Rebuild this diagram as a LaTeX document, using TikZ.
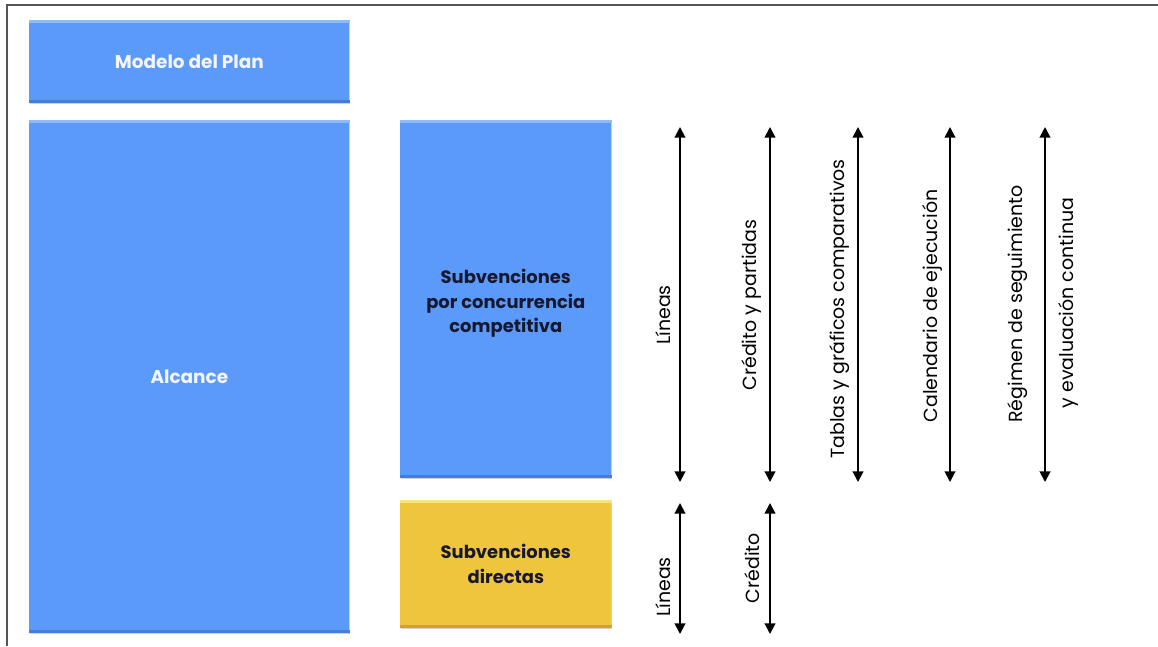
\documentclass[tikz,border=0pt]{standalone}
\usepackage{fontspec}
\setmainfont{Poppins}
\usetikzlibrary{arrows.meta,shadows}
\definecolor{boxblue}{RGB}{91,154,249}
\definecolor{boxbluelight}{RGB}{140,188,252}
\definecolor{boxbluedark}{RGB}{70,125,215}
\definecolor{boxyellow}{RGB}{240,197,62}
\definecolor{boxyellowlight}{RGB}{250,225,130}
\definecolor{boxyellowdark}{RGB}{205,165,45}
\definecolor{navytext}{RGB}{22,24,48}
\definecolor{framegray}{RGB}{85,85,85}
\tikzset{
  px/.style={x=0.02cm,y=-0.02cm},
  panel/.style={draw=none, rectangle, anchor=north west, inner sep=0pt, align=center,
     drop shadow={shadow xshift=0.6pt, shadow yshift=-1.2pt, opacity=0.35}},
  bluepanel/.style={panel, fill=boxblue},
  yellowpanel/.style={panel, fill=boxyellow},
  whitelabel/.style={text=white!96!blue, font=\fontsize{10.5}{14}\selectfont\bfseries},
  darklabel/.style={text=navytext, font=\fontsize{10.2}{14}\selectfont\bfseries},
  span/.style={line width=1.1pt, {Triangle[width=6pt,length=6pt]}-{Triangle[width=6pt,length=6pt]}},
  vlabel/.style={rotate=90, font=\fontsize{10.8}{14}\selectfont, align=center, inner sep=0pt},
  hilite/.style={line width=1.6pt},
}
\begin{document}
\begin{tikzpicture}[px]
\useasboundingbox (0,0) rectangle (1158,646);
% frame
\coordinate (fl) at (7,646);
\coordinate (fc) at (7,5);
\coordinate (fr) at (1158,5);
\draw[framegray, line width=1.2pt] (fl) -- (fc) -- (fr);

% boxes
\node[bluepanel, minimum width=320*0.02cm, minimum height=82*0.02cm] (modelo) at (29,20) {};
\node[whitelabel] (tmodelo) at (modelo.center) {Modelo del Plan};
\node[bluepanel, minimum width=320*0.02cm, minimum height=512*0.02cm] (alcance) at (29,120) {};
\node[whitelabel] (talcance) at (alcance.center) {Alcance};
\node[bluepanel, minimum width=211*0.02cm, minimum height=357*0.02cm] (concurrencia) at (400,120) {};
\node[darklabel, align=center] (tconc) at ([yshift=-0.09cm]concurrencia.center) {Subvenciones\\por concurrencia\\competitiva};
\node[yellowpanel, minimum width=211*0.02cm, minimum height=127*0.02cm] (directas) at (400,500) {};
\node[darklabel, align=center] (tdir) at (directas.center) {Subvenciones\\directas};

% bevel highlights
\foreach \b in {modelo,alcance,concurrencia}{
  \draw[hilite, boxbluelight] ([yshift=-0.8pt]\b.north west) -- ([yshift=-0.8pt]\b.north east);
  \draw[hilite, boxbluedark] ([yshift=0.8pt]\b.south west) -- ([yshift=0.8pt]\b.south east);
}
\draw[hilite, boxyellowlight] ([yshift=-0.8pt]directas.north west) -- ([yshift=-0.8pt]directas.north east);
\draw[hilite, boxyellowdark] ([yshift=0.8pt]directas.south west) -- ([yshift=0.8pt]directas.south east);

% top arrows
\foreach \n/\x in {a/680,b/770,c/858,d/950,e/1045}{
  \coordinate (\n top) at (\x,127);
  \coordinate (\n bot) at (\x,482);
  \draw[span] (\n top) -- (\n bot);
}
\node[vlabel] (la) at (663,315) {Líneas};
\node[vlabel] (lb) at (752,305) {Crédito y partidas};
\node[vlabel] (lc) at (840,309) {Tablas y gráficos comparativos};
\node[vlabel] (ld) at (932,306) {Calendario de ejecución};
\node[vlabel] (le1) at (1018,304) {Régimen de seguimiento};
\node[vlabel] (le2) at (1068,303) {y evaluación continua};

% bottom arrows
\foreach \n/\x in {f/680,g/770}{
  \coordinate (\n top) at (\x,503);
  \coordinate (\n bot) at (\x,634);
  \draw[span] (\n top) -- (\n bot);
}
\node[vlabel] (lf) at (663,587) {Líneas};
\node[vlabel] (lg) at (752,568) {Crédito};
\end{tikzpicture}
\end{document}
